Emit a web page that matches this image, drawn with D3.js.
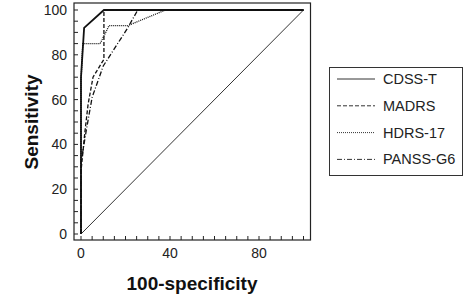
<!DOCTYPE html>
<html>
<head>
<meta charset="utf-8">
<script src="https://cdn.jsdelivr.net/npm/d3@7"></script>
<style>
  body { margin: 0; background: #fff; }
  svg { display: block; font-family: 'Liberation Sans', Arial, sans-serif; }
</style>
</head>
<body>
<svg id="chart" width="464" height="296"></svg>
<script>
// ROC curves (x = 100-specificity, y = sensitivity)
const seriesNames = ['CDSS-T', 'MADRS', 'HDRS-17', 'PANSS-G6']
const cdssT = [[0, 0], [0, 70], [1.4, 92], [10.3, 100], [100, 100]]
const madrs = [[0, 0], [0, 28], [1.8, 46], [3.2, 58], [5.4, 70], [10.3, 78], [10.3, 100], [100, 100]]
const hdrs17 = [[0, 0], [0, 68], [0.8, 85], [8.6, 85], [12.6, 93], [21, 93], [38, 100], [100, 100]]
const panssG6 = [[0, 0], [0, 32], [2.5, 47], [5, 61], [10, 75], [21, 92], [25.5, 100], [100, 100]]
const reference = [[0, 0], [100, 100]]
const xTickLabels = [0, 40, 80]
const yTickLabels = [0, 20, 40, 60, 80, 100]

const svg = d3.select('#chart')

const x = d3.scaleLinear().domain([0, 100]).range([81, 303.5])
const y = d3.scaleLinear().domain([0, 100]).range([234, 10])

const frame = { left: 74, right: 310.5, top: 3, bottom: 240 }

const styles = [
  { data: cdssT, dash: null, width: 1.8 },
  { data: madrs, dash: '4,2', width: 1.3 },
  { data: hdrs17, dash: '1,1', width: 1.3 },
  { data: panssG6, dash: '5,2,1,2', width: 1.3 },
]

// box
svg.append('rect')
  .attr('x', frame.left)
  .attr('y', frame.top)
  .attr('width', frame.right - frame.left)
  .attr('height', frame.bottom - frame.top)
  .attr('fill', 'none')
  .attr('stroke', '#222')
  .attr('stroke-width', 1.2)

// ticks, every 5 units, pointing inward
const minor = d3.range(0, 101, 5)
svg.append('g')
  .selectAll('line')
  .data(minor)
  .enter()
  .append('line')
  .attr('x1', d => x(d)).attr('x2', d => x(d))
  .attr('y1', frame.bottom).attr('y2', frame.bottom - 4)
  .attr('stroke', '#222')

svg.append('g')
  .selectAll('line')
  .data(minor)
  .enter()
  .append('line')
  .attr('y1', d => y(d)).attr('y2', d => y(d))
  .attr('x1', frame.left).attr('x2', frame.left + 4)
  .attr('stroke', '#222')

svg.append('g')
  .selectAll('text')
  .data(xTickLabels)
  .enter()
  .append('text')
  .attr('x', d => x(d))
  .attr('y', 258)
  .attr('text-anchor', 'middle')
  .attr('font-size', 14)
  .attr('fill', '#222')
  .text(d => d)

svg.append('g')
  .selectAll('text')
  .data(yTickLabels)
  .enter()
  .append('text')
  .attr('x', 67)
  .attr('y', d => y(d) + 5)
  .attr('text-anchor', 'end')
  .attr('font-size', 14)
  .attr('fill', '#222')
  .text(d => d)

// axis titles
svg.append('text')
  .attr('x', 192)
  .attr('y', 290)
  .attr('text-anchor', 'middle')
  .attr('font-size', 19)
  .attr('font-weight', 'bold')
  .attr('fill', '#111')
  .text('100-specificity')

svg.append('text')
  .attr('transform', 'translate(38,122) rotate(-90)')
  .attr('text-anchor', 'middle')
  .attr('font-size', 19)
  .attr('font-weight', 'bold')
  .attr('fill', '#111')
  .text('Sensitivity')

const line = d3.line().x(d => x(d[0])).y(d => y(d[1]))

svg.append('path')
  .attr('d', line(reference))
  .attr('fill', 'none')
  .attr('stroke', '#333')
  .attr('stroke-width', 1)

svg.append('g')
  .selectAll('path')
  .data(styles)
  .enter()
  .append('path')
  .attr('d', d => line(d.data))
  .attr('fill', 'none')
  .attr('stroke', '#111')
  .attr('stroke-width', d => d.width)
  .attr('stroke-dasharray', d => d.dash)

// legend
const legend = svg.append('g')
legend.append('rect')
  .attr('x', 329.5)
  .attr('y', 67.5)
  .attr('width', 133)
  .attr('height', 108)
  .attr('fill', '#fff')
  .attr('stroke', '#333')
  .attr('stroke-width', 1)

const items = legend.selectAll('g.item')
  .data(seriesNames)
  .enter()
  .append('g')
  .attr('class', 'item')
  .attr('transform', (d, i) => `translate(0,${79 + i * 26.8})`)

items.append('line')
  .attr('x1', 337).attr('x2', 375)
  .attr('y1', 0).attr('y2', 0)
  .attr('stroke', '#333')
  .attr('stroke-width', 1)
  .attr('stroke-dasharray', (d, i) => styles[i].dash)

items.append('text')
  .attr('x', 383)
  .attr('y', 5)
  .attr('font-size', 14.5)
  .attr('fill', '#222')
  .text(d => d)
</script>
</body>
</html>
